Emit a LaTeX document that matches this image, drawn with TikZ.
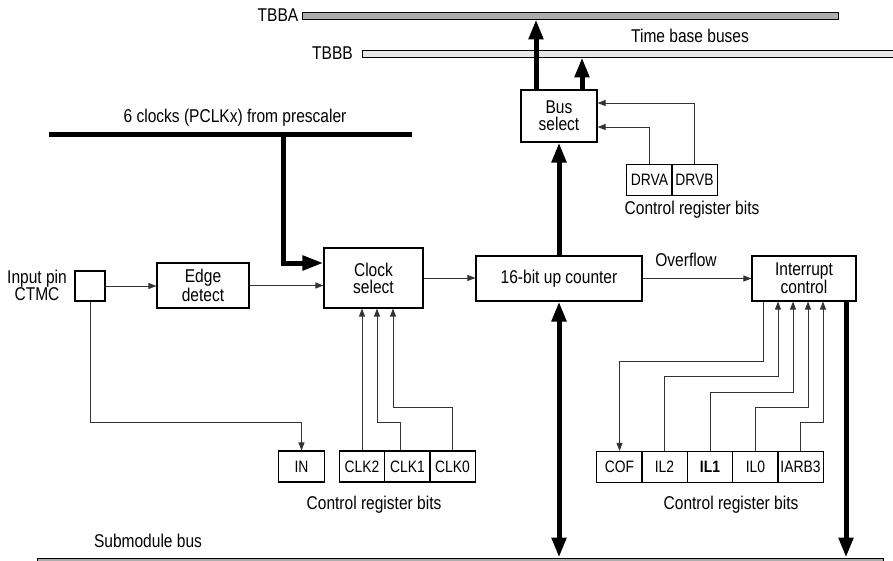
\documentclass[tikz,border=0pt]{standalone}
\usepackage{fontspec}
\setmainfont{Liberation Sans}[FakeStretch=0.84]
\usetikzlibrary{arrows.meta}
\definecolor{busA}{HTML}{ADADAD}
\definecolor{busB}{HTML}{E6E6E6}
\definecolor{wirec}{HTML}{333333}
\begin{document}
\begin{tikzpicture}[x=1pt,y=-1pt,
  lbl/.style={font=\fontsize{18.5}{17}\selectfont, align=center, inner sep=0pt},
  blk/.style={draw, line width=1.1pt, fill=white, lbl},
  reg/.style={draw, line width=1.1pt, minimum width=45.5pt, minimum height=31pt, inner sep=0pt, font=\fontsize{16.5}{16}\selectfont},
  wire/.style={draw=wirec, line width=0.9pt},
  tarrow/.style={wire, -{Triangle[length=8pt,width=6pt]}},
  fat/.style={line width=5pt},
  fatarrow/.style={fat, -{Triangle[length=20pt,width=14pt]}},
  busbar/.style={draw, line width=0.9pt, inner sep=0pt, minimum height=7pt},
]
\useasboundingbox (0,0) rectangle (893,561);

% buses
\node[busbar, fill=busA, minimum width=536pt] (tbba) at (570,15.5) {};
\node[busbar, fill=busB, minimum width=531pt] (tbbb) at (627.5,53.5) {};
\node[busbar, fill=busA, minimum width=846pt] (subbus) at (460,561.5) {};
\node[fill=black, inner sep=0pt, minimum width=363pt, minimum height=5pt] (pclk) at (230.5,135) {};

\node[lbl] (tbbalbl) at (278,15) {TBBA};
\node[lbl] (tbbblbl) at (332.5,53) {TBBB};
\node[lbl] (tblbl) at (690,36) {Time base buses};
\node[lbl] (pclklbl) at (235,118) {6 clocks (PCLKx) from prescaler};
\node[lbl] (ovf) at (686,260) {Overflow};
\node[lbl] (crb1) at (692,210) {Control register bits};
\node[lbl] (crb2) at (374,505) {Control register bits};
\node[lbl] (crb3) at (731,505) {Control register bits};
\node[lbl] (sblbl) at (148,541) {Submodule bus};

% blocks
\node[blk, minimum width=30pt, minimum height=30pt] (pin) at (90,286) {};
\node[lbl] (pinlbl) at (37,285) {Input pin\\CTMC};
\node[blk, minimum width=92pt, minimum height=45pt] (edge) at (203,285.5) {Edge\\detect};
\node[blk, minimum width=99pt, minimum height=60pt] (clock) at (373.5,278) {Clock\\select};
\node[blk, minimum width=166pt, minimum height=45pt] (counter) at (559,278.5) {16-bit up counter};
\node[blk, minimum width=104pt, minimum height=45pt] (intc) at (804,278.5) {Interrupt\\control};
\node[blk, minimum width=76pt, minimum height=52pt] (bussel) at (559,116) {Bus\\select};

% registers
\node[reg] (drva) at (649.5,180) {DRVA};
\node[reg] (drvb) at (694.5,180) {DRVB};
\node[reg] (in) at (301.5,466.5) {IN};
\node[reg] (clk2) at (362,466.5) {CLK2};
\node[reg] (clk1) at (407.5,466.5) {CLK1};
\node[reg] (clk0) at (452.5,466.5) {CLK0};
\node[reg] (cof) at (619.5,467) {COF};
\node[reg] (il2) at (664.5,467) {IL2};
\node[reg] (il1) at (710,467) {\bfseries IL1};
\node[reg] (il0) at (755.5,467) {IL0};
\node[reg] (iarb) at (800.5,467) {IARB3};

% level coordinates
\coordinate (yA) at (0,422);
\coordinate (yB) at (0,407);
\coordinate (yC) at (0,361);
\coordinate (yD) at (0,376);
\coordinate (yE) at (0,392);
\coordinate (tap) at (283,135);

% thin connectors
\draw[tarrow] (pin.east) -- (pin.east -| edge.west);
\draw[tarrow] (edge.east) -- (edge.east -| clock.west);
\draw[tarrow] (clock.east) -- (clock.east -| counter.west);
\draw[tarrow] (counter.east) -- (counter.east -| intc.west);
\draw[tarrow] (pin.south) -- (pin.south |- yA) -| (in.north);
\draw[tarrow] (clk2.north) -- (clk2.north |- clock.south);
\draw[tarrow] ([xshift=-7.5pt]clk1.north) -- ([xshift=-7.5pt]clk1.north |- yA) -| ([xshift=3.5pt]clock.south);
\draw[tarrow] (clk0.north) -- (clk0.north |- yB) -| ([xshift=19.5pt]clock.south);
\draw[tarrow] ([xshift=-41pt]intc.south) -- ([xshift=-41pt]intc.south |- yC) -| (cof.north);
\draw[tarrow] (il2.north) -- (il2.north |- yD) -| ([xshift=-26pt]intc.south);
\draw[tarrow] (il1.north) -- (il1.north |- yE) -| ([xshift=-11pt]intc.south);
\draw[tarrow] (il0.north) -- (il0.north |- yB) -| ([xshift=4pt]intc.south);
\draw[tarrow] (iarb.north) -- (iarb.north |- yA) -| ([xshift=19pt]intc.south);
\draw[tarrow] (drva.north) |- ([yshift=-11pt]bussel.east);
\draw[tarrow] (drvb.north) |- ([yshift=13pt]bussel.east);

% thick connectors
\draw[line width=5pt, -{Triangle[length=21pt,width=14pt]}] (tap) |- ([yshift=15pt]clock.west);
\draw[fatarrow] (counter.north) -- (bussel.south);
\draw[fat, {Triangle[length=20pt,width=14pt]}-{Triangle[length=20pt,width=14pt]}] (counter.south) -- (counter.south |- subbus.north);
\draw[fatarrow] ([xshift=42pt]intc.south) -- ([xshift=42pt]intc.south |- subbus.north);
\draw[fatarrow] ([xshift=-23pt]bussel.north) -- ([xshift=-23pt]bussel.north |- tbba.south);
\draw[fatarrow] ([xshift=23pt]bussel.north) -- ([xshift=23pt]bussel.north |- tbbb.south);
\end{tikzpicture}
\end{document}
